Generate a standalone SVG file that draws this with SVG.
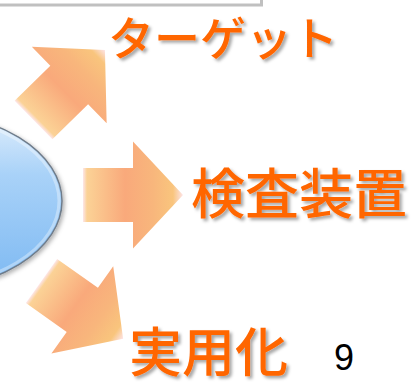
<svg xmlns="http://www.w3.org/2000/svg" xmlns:xlink="http://www.w3.org/1999/xlink" width="416" height="382" viewBox="0 0 416 382">
<style>
.lbl{font-family:"Noto Sans CJK JP","Noto Sans CJK SC",sans-serif;font-weight:500;fill:#ff6600;filter:url(#tshadow)}
.num{font-family:"Liberation Sans",Arial,sans-serif;fill:#000}
.arrow{fill:url(#arrowGrad)}
</style>
<defs>
<linearGradient id="arrowGrad" gradientUnits="userSpaceOnUse" x1="0" y1="0" x2="100" y2="0">
<stop offset="0" stop-color="#fde6ea"/>
<stop offset="0.04" stop-color="#fbd296"/>
<stop offset="0.42" stop-color="#f9a97b"/>
<stop offset="0.7" stop-color="#f8b67c"/>
<stop offset="0.9" stop-color="#f9c57d"/>
<stop offset="1" stop-color="#fde4e8"/>
</linearGradient>
<linearGradient id="ellGrad" x1="0" y1="0" x2="0" y2="1">
<stop offset="0" stop-color="#e4f0fc"/>
<stop offset="0.35" stop-color="#a9d2f8"/>
<stop offset="1" stop-color="#7cb8f2"/>
</linearGradient>
<filter id="tshadow" x="-10%" y="-20%" width="130%" height="150%">
<feDropShadow dx="2.5" dy="2.5" stdDeviation="1.5" flood-color="#000" flood-opacity="0.35"/>
</filter>
<filter id="eshadow" x="-20%" y="-20%" width="140%" height="140%">
<feDropShadow dx="2" dy="2" stdDeviation="2" flood-color="#000" flood-opacity="0.3"/>
</filter>
<path id="arrowShape" class="arrow" d="M0,-27 H50 V-53.5 L100,0 L50,53.5 V27 H0 Z"/>
</defs>
<rect width="416" height="382" fill="#fff"/>
<g id="node-box">
<rect x="-10" y="-20" width="271.5" height="25" fill="#fff" stroke="#c0c0c0" stroke-width="3"/>
</g>
<g id="node-ellipse">
<ellipse cx="-85" cy="201" rx="147" ry="90" fill="url(#ellGrad)" stroke="#6f7c8a" stroke-width="1.5" filter="url(#eshadow)"/>
<ellipse cx="-85" cy="201" rx="144" ry="87" fill="none" stroke="#ffffff" stroke-opacity="0.35" stroke-width="3"/>
</g>
<g id="connectors">
<use xlink:href="#arrowShape" href="#arrowShape" transform="translate(33.5,120) rotate(-44.4)"/>
<use xlink:href="#arrowShape" href="#arrowShape" transform="translate(83,195)"/>
<use xlink:href="#arrowShape" href="#arrowShape" transform="translate(41.5,281) rotate(35.3)"/>
</g>
<g id="node-target">
<text class="lbl" x="108" y="55" font-size="46">ターゲット</text>
</g>
<g id="node-inspection">
<text class="lbl" x="191" y="214" font-size="54">検査装置</text>
</g>
<g id="node-practical">
<text class="lbl" x="129" y="372" font-size="53">実用化</text>
</g>
<g id="page-number">
<text class="num" x="334" y="370" font-size="36">9</text>
</g>
</svg>
